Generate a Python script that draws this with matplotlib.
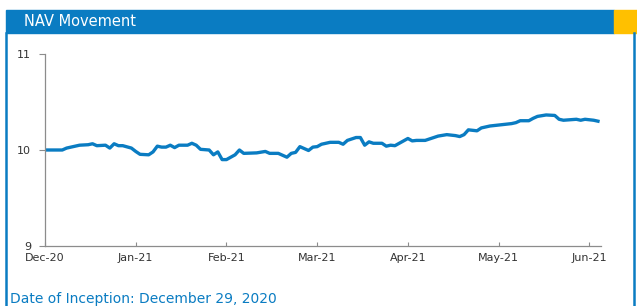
import matplotlib
matplotlib.use('Agg')
import matplotlib.pyplot as plt
from matplotlib.patches import Rectangle
from matplotlib.lines import Line2D

# trading-day index (21 per month) and NAV values
days = [0, 4, 5, 6, 8, 10, 11, 12, 14, 15, 16, 17, 18, 20, 21, 22, 24, 25, 26, 27,
        28, 29, 30, 31, 33, 34, 35, 36, 38, 39, 40, 41, 42, 44, 45, 46, 49, 51, 52, 54,
        56, 57, 58, 59, 61, 62, 63, 64, 66, 68, 69, 70, 72, 73, 74, 75, 76, 78, 79, 80,
        81, 82, 84, 85, 86, 88, 90, 91, 93, 95, 96, 97, 98, 100, 101, 103, 105, 107, 108, 109,
        110, 112, 113, 114, 116, 118, 119, 120, 123, 124, 125, 127, 128]
nav = [10.00, 10.00, 10.02, 10.03, 10.05, 10.055, 10.065, 10.045, 10.05, 10.02,
       10.065, 10.045, 10.045, 10.02, 9.985, 9.955, 9.95, 9.98, 10.04, 10.03,
       10.03, 10.05, 10.025, 10.05, 10.05, 10.07, 10.05, 10.007, 10.0, 9.95,
       9.98, 9.90, 9.90, 9.95, 10.0, 9.965, 9.97, 9.985, 9.965, 9.965,
       9.925, 9.965, 9.975, 10.035, 9.995, 10.03, 10.035, 10.06, 10.08, 10.08,
       10.06, 10.10, 10.13, 10.13, 10.05, 10.085, 10.07, 10.07, 10.04, 10.05,
       10.045, 10.07, 10.12, 10.095, 10.10, 10.10, 10.13, 10.145, 10.16, 10.15,
       10.14, 10.16, 10.21, 10.20, 10.23, 10.25, 10.26, 10.27, 10.275, 10.285,
       10.305, 10.305, 10.33, 10.35, 10.365, 10.36, 10.32, 10.31, 10.32, 10.31,
       10.32, 10.31, 10.30]

month_labels = ['Dec-20', 'Jan-21', 'Feb-21', 'Mar-21', 'Apr-21', 'May-21', 'Jun-21']
month_ticks = [0, 21, 42, 63, 84, 105, 126]

blue = '#0A7CC2'
orange = '#FFC000'

fig = plt.figure(figsize=(6.37, 3.06), dpi=100)
W, H = 637, 306

# header bar and frame
fig.patches.append(Rectangle((6 / W, 1 - 33 / H), (614 - 6) / W, 23 / H,
                             transform=fig.transFigure, color=blue, zorder=0))
fig.patches.append(Rectangle((614 / W, 1 - 33 / H), (W - 614) / W, 23 / H,
                             transform=fig.transFigure, color=orange, zorder=0))
fig.lines.append(Line2D([6.5 / W, 6.5 / W], [0, 1 - 33 / H], transform=fig.transFigure,
                        color=blue, lw=1.8))
fig.lines.append(Line2D([633.5 / W, 633.5 / W], [0, 1 - 33 / H], transform=fig.transFigure,
                        color=blue, lw=1.8))
fig.text(24 / W, 1 - 21.5 / H, 'NAV Movement', color='white', fontsize=10.5,
         va='center', ha='left')

ax = fig.add_axes([45 / W, 1 - 246 / H, (601 - 45) / W, (246 - 54) / H])
ax.plot(days, nav, color=blue, lw=2.4, solid_joinstyle='round')

ax.set_xlim(0, 128.7)
ax.set_ylim(9, 11)
ax.set_yticks([9, 10, 11])
ax.set_xticks(month_ticks)
ax.set_xticklabels(month_labels)

for s in ['top', 'right']:
    ax.spines[s].set_visible(False)
for s in ['left', 'bottom']:
    ax.spines[s].set_color('#8c8c8c')
    ax.spines[s].set_linewidth(0.9)
ax.tick_params(axis='y', length=4, color='#8c8c8c', labelsize=8, labelcolor='#333333', pad=6)
ax.tick_params(axis='x', direction='in', length=3, color='#8c8c8c', labelsize=8,
               labelcolor='#333333', pad=5)

fig.text(10 / W, 1 - 292 / H, 'Date of Inception: December 29, 2020', color=blue,
         fontsize=10, va='top', ha='left')

fig.savefig('out.png', dpi=100)
